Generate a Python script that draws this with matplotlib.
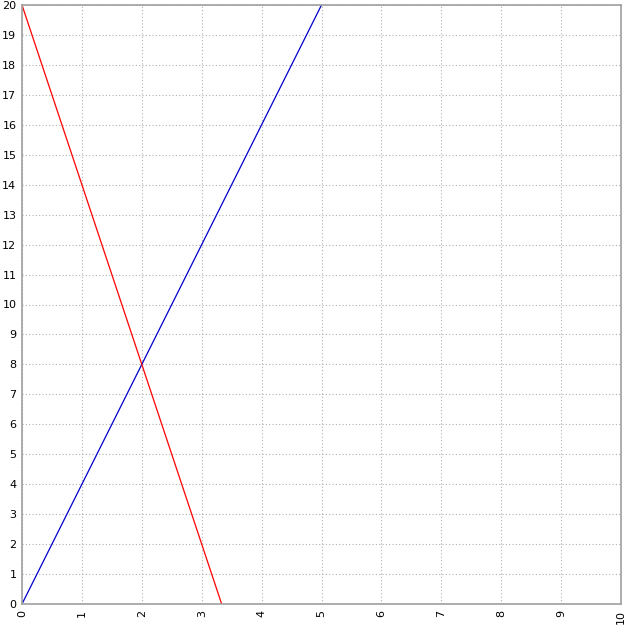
import matplotlib.pyplot as plt

# two straight lines, end points
blue_x = [0, 5]
blue_y = [0, 20]
red_x = [0, 10 / 3]
red_y = [20, 0]

x_ticks = list(range(0, 11))
y_ticks = list(range(0, 21))

fig = plt.figure(figsize=(6.27, 6.27), dpi=100)
ax = fig.add_axes([22 / 627, 23 / 627, 599 / 627, 599 / 627])

ax.plot(blue_x, blue_y, color="#0000cc", linewidth=0.9)
ax.plot(red_x, red_y, color="red", linewidth=0.9)

ax.set_xlim(0, 10)
ax.set_ylim(0, 20)
ax.set_xticks(x_ticks)
ax.set_yticks(y_ticks)
ax.tick_params(length=0, labelsize=8, pad=4)
plt.setp(ax.get_xticklabels(), rotation=90)

ax.grid(True, color="#b0b0b0", linestyle=(0, (1, 2)), linewidth=0.8)
ax.set_axisbelow(True)
for s in ax.spines.values():
    s.set_color("#a0a0a0")
    s.set_linewidth(1.2)

fig.savefig("out.png", dpi=100)
